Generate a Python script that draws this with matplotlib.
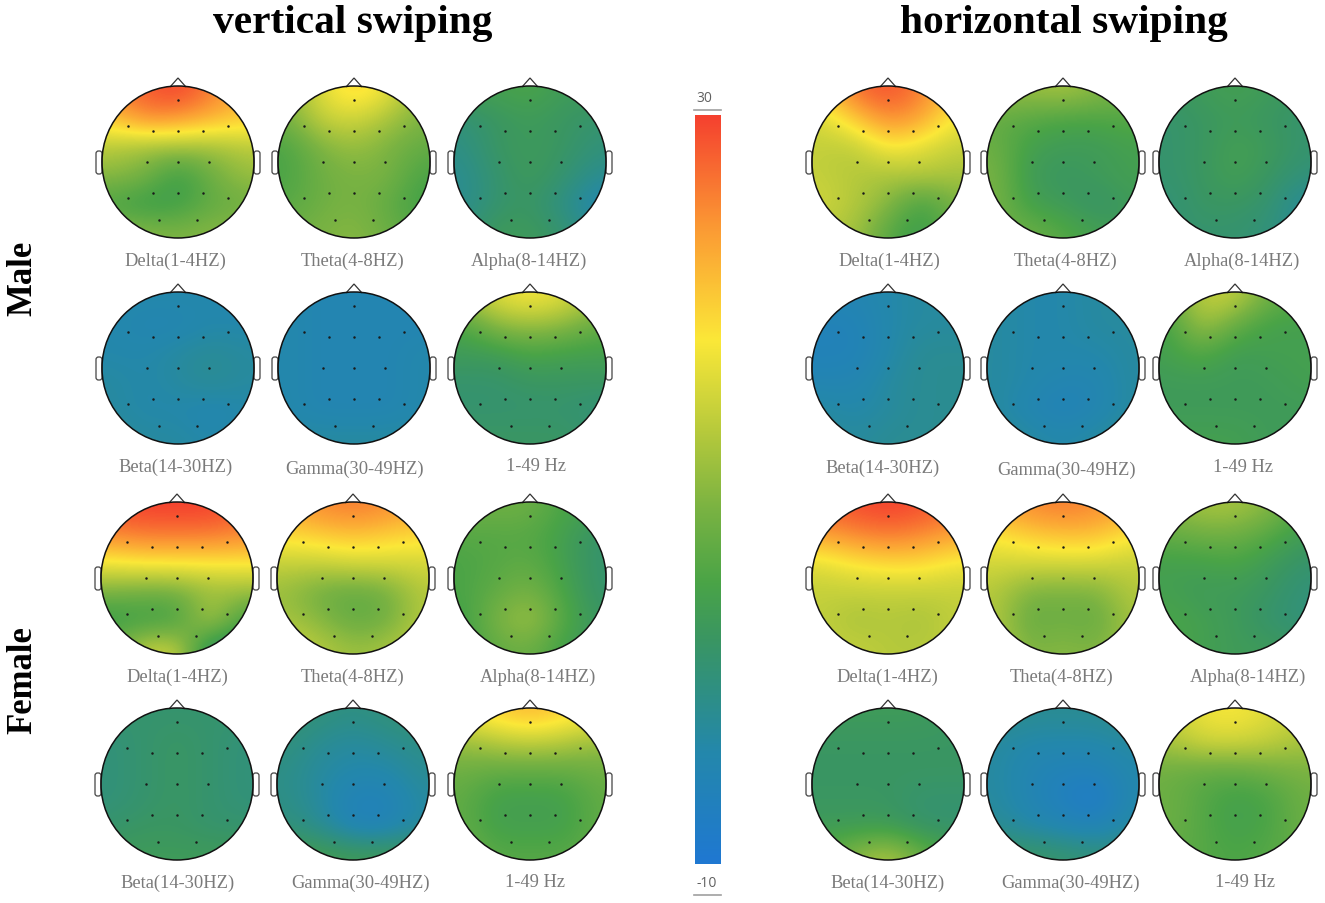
import numpy as np
import matplotlib
matplotlib.use("Agg")
import matplotlib.pyplot as plt
from matplotlib.colors import LinearSegmentedColormap
from matplotlib.patches import Circle, FancyBboxPatch, Polygon

# Values in the colour bar's units, rows top to bottom of the head
mv_delta = [[26, 28, 30, 26, 22], [20, 25, 24, 22, 20], [13, 11, 11, 11, 13], [10, 9, 3, 8, 11], [5, 3, 4, 7, 8], [10, 10, 9, 10, 10]]
mv_theta = [[10, 16, 20, 17, 10], [8, 14, 15, 12, 9], [5, 9, 11, 9, 7], [5, 8, 9, 9, 5], [6, 8, 9, 7, 4], [8, 9, 10, 8, 6]]
mv_alpha = [[4, 4, 5, 3, 3], [0, 2, 3, 2, 1], [-1, 2, 3, 2, 0], [-2, 1, 3, 1, -2], [-2, 1, 2, -1, -5], [0, 3, 3, 1, -2]]
mv_beta = [[-4, -4, -4, -4, -5], [-4, -5, -5, -4, -4], [-4, -4, -3, -2, -3], [-3, -4, -3, -2, -3], [-3, -4, -4, -5, -4], [-2, -3, -3, -4, -3]]
mv_gamma = [[-4, -5, -5, -5, -5], [-4, -5, -5, -5, -5], [-4, -5, -5, -5, -4], [-4, -5, -5, -5, -4], [-4, -5, -5, -5, -4], [-3, -3, -3, -3, -3]]
mv_all = [[12, 16, 18, 16, 12], [5, 10, 11, 10, 7], [3, 3, 5, 4, 4], [1, 1, 2, 2, 2], [1, 1, 1, 1, 0], [2, 2, 2, 2, 1]]

mh_delta = [[20, 27, 29, 26, 20], [15, 20, 25, 23, 17], [14, 13, 18, 16, 14], [14, 13, 12, 13, 12], [15, 13, 10, 4, 9], [13, 12, 6, 3, 8]]
mh_theta = [[11, 11, 12, 10, 8], [7, 6, 5, 5, 6], [8, 4, 3, 3, 4], [9, 3, 2, 3, 4], [9, 4, 3, 1, 3], [8, 8, 6, 4, 3]]
mh_alpha = [[2, 3, 4, 3, 2], [1, 2, 3, 2, 1], [1, 2, 4, 3, 1], [1, 2, 4, 2, 0], [0, 2, 2, 1, -3], [1, 1, 1, 0, -2]]
mh_beta = [[-5, -5, -4, -3, -3], [-6, -6, -4, -3, -3], [-6, -6, -4, -2, -2], [-5, -5, -3, -2, -2], [-3, -4, -3, -2, -2], [-2, -3, -2, -2, -2]]
mh_gamma = [[-3, -4, -4, -3, -3], [-3, -4, -4, -3, -3], [-3, -4, -4, -4, -3], [-3, -4, -5, -5, -3], [-3, -5, -6, -5, -3], [-2, -3, -4, -3, -2]]
mh_all = [[7, 14, 14, 8, 6], [4, 12, 7, 4, 4], [4, 6, 3, 4, 4], [3, 3, 3, 3, 4], [3, 3, 3, 3, 3], [4, 4, 4, 3, 3]]

fv_delta = [[29, 30, 30, 30, 28], [25, 26, 26, 26, 25], [17, 18, 18, 18, 18], [9, 8, 8, 11, 11], [3, 4, 4, 14, 4], [8, 14, 15, -1, 1]]
fv_theta = [[23, 25, 26, 25, 23], [19, 20, 21, 20, 19], [14, 14, 15, 15, 15], [11, 8, 7, 8, 13], [12, 10, 7, 8, 13], [15, 13, 11, 12, 14]]
fv_alpha = [[8, 8, 8, 5, 4], [6, 6, 6, 4, 1], [5, 6, 7, 4, 1], [5, 7, 9, 5, 1], [4, 9, 12, 6, 2], [4, 7, 8, 4, 2]]
fv_beta = [[1, 1, 1, 1, 1], [0, 1, 2, 1, 0], [0, 1, 2, 1, 0], [0, 1, 2, 1, 0], [1, 2, 2, 1, 1], [3, 3, 3, 3, 3]]
fv_gamma = [[1, 0, -1, 0, 1], [0, -2, -3, -2, -1], [-1, -3, -4, -4, -2], [-1, -3, -6, -6, -3], [0, -2, -6, -6, -3], [4, 4, 3, 3, 3]]
fv_all = [[18, 20, 22, 20, 18], [11, 13, 14, 13, 11], [8, 7, 7, 7, 8], [7, 4, 4, 4, 7], [7, 4, 4, 4, 7], [8, 6, 6, 6, 7]]

fh_delta = [[28, 29, 30, 29, 27], [23, 25, 26, 25, 23], [16, 18, 19, 19, 17], [14, 14, 14, 14, 14], [14, 12, 13, 12, 14], [14, 14, 13, 13, 14]]
fh_theta = [[23, 25, 26, 25, 23], [18, 20, 21, 21, 18], [15, 15, 15, 15, 14], [13, 9, 9, 9, 13], [13, 7, 8, 7, 12], [13, 9, 10, 9, 12]]
fh_alpha = [[10, 12, 12, 10, 6], [7, 8, 8, 6, 3], [4, 4, 5, 3, 1], [4, 3, 3, 2, 0], [5, 4, 3, 1, 0], [5, 4, 3, 3, 2]]
fh_beta = [[3, 3, 3, 3, 2], [2, 2, 2, 2, 2], [2, 2, 2, 2, 2], [2, 2, 2, 1, 1], [3, 3, 3, 1, 1], [6, 10, 13, 8, 4]]
fh_gamma = [[-1, -2, -2, -2, -1], [-3, -4, -4, -4, -3], [-3, -5, -6, -6, -4], [-3, -5, -7, -9, -4], [-2, -4, -5, -6, -3], [2, 2, 1, 0, 0]]
fh_all = [[14, 17, 18, 16, 14], [12, 15, 15, 14, 12], [8, 7, 7, 8, 9], [8, 6, 4, 5, 8], [8, 6, 4, 5, 8], [7, 6, 5, 6, 7]]

band_names = ["Delta(1-4HZ)", "Theta(4-8HZ)", "Alpha(8-14HZ)",
              "Beta(14-30HZ)", "Gamma(30-49HZ)", "1-49 Hz"]
electrodes_x = [0, -.66, -.33, 0, .33, .66, -.41, 0, .41, -.66, -.33, 0, .33, .66, -.25, .25]
electrodes_y = [.81, .48, .41, .41, .41, .48, 0, 0, 0, -.47, -.41, -.41, -.41, -.47, -.76, -.76]

vmin, vmax = -10, 30
color_stops = [(-10, "#1f78d2"), (-4, "#2488ab"), (-1, "#2e8f85"), (2, "#3a9662"),
               (5, "#4aa447"), (9, "#7ab342"), (13, "#b5c93c"), (18, "#fbe838"),
               (24, "#fb9a34"), (30, "#f5412f")]
cmap = LinearSegmentedColormap.from_list(
    "eeg", [((v - vmin) / (vmax - vmin), c) for v, c in color_stops])

R = 76
label_color = "#7a7a7a"


def draw_head(ax, cx, cy, values, label, lx, ly):
    pad = 1.1 * R
    im = ax.imshow(values, cmap=cmap, vmin=vmin, vmax=vmax, interpolation="bicubic",
                   extent=(cx - pad, cx + pad, cy + pad, cy - pad), aspect="auto", zorder=1)
    circle = Circle((cx, cy), R, fc="none", ec="#111111", lw=1.1, zorder=3)
    ax.add_patch(circle)
    im.set_clip_path(circle)

    ax.add_patch(Polygon([(cx - 8, cy - R + 1), (cx, cy - R - 8), (cx + 8, cy - R + 1)],
                         closed=False, fc="none", ec="#333333", lw=0.9, zorder=2))
    for side in (-1, 1):
        x0 = cx + side * (R + 3) - 3
        ax.add_patch(FancyBboxPatch((x0, cy - 11), 6, 23, boxstyle="round,pad=0,rounding_size=2.5",
                                    fc="none", ec="#444444", lw=0.9, zorder=2))

    ax.scatter(cx + np.array(electrodes_x) * R, cy - np.array(electrodes_y) * R,
               s=3.2, c="#1a1a1a", linewidths=0, zorder=4)
    ax.text(lx, ly, label, ha="center", va="center", color=label_color,
            fontsize=13.3, family="Liberation Serif")


fig = plt.figure(figsize=(13.25, 9.04), dpi=100)
ax = fig.add_axes([0, 0, 1, 1])
ax.axis("off")

panels = [
    # row values, head centres, label positions
    ([mv_delta, mv_theta, mv_alpha], [(178, 163), (354, 163), (530, 163)], [(175, 261), (353, 261), (529, 261)]),
    ([mv_beta, mv_gamma, mv_all], [(178, 369), (354, 369), (530, 369)], [(176, 467), (355, 469), (536, 467)]),
    ([fv_delta, fv_theta, fv_alpha], [(177, 579), (353, 579), (530, 579)], [(177, 677), (353, 677), (538, 677)]),
    ([fv_beta, fv_gamma, fv_all], [(177, 785), (353, 785), (530, 785)], [(178, 883), (361, 883), (535, 883)]),
    ([mh_delta, mh_theta, mh_alpha], [(888, 163), (1063, 163), (1235, 163)], [(889, 261), (1066, 261), (1242, 261)]),
    ([mh_beta, mh_gamma, mh_all], [(888, 369), (1063, 369), (1235, 369)], [(883, 468), (1067, 470), (1243, 468)]),
    ([fh_delta, fh_theta, fh_alpha], [(888, 579), (1063, 579), (1235, 579)], [(887, 677), (1062, 677), (1248, 677)]),
    ([fh_beta, fh_gamma, fh_all], [(888, 785), (1063, 785), (1235, 785)], [(888, 883), (1071, 883), (1245, 883)]),
]
for row, (vals, centres, label_pos) in enumerate(panels):
    names = band_names[:3] if row % 2 == 0 else band_names[3:]
    for v, (cx, cy), name, (lx, ly) in zip(vals, centres, names, label_pos):
        draw_head(ax, cx, cy, v, name, lx, ly)

# colour bar
gradient = np.linspace(vmax, vmin, 256).reshape(-1, 1)
ax.imshow(gradient, cmap=cmap, vmin=vmin, vmax=vmax, extent=(695, 721, 865, 116), aspect="auto", zorder=1)
ax.plot([694, 721], [111, 111], color="#a0a0a0", lw=1.2)
ax.plot([694, 721], [896, 896], color="#a0a0a0", lw=1.2)
ax.text(704, 99, "30", ha="center", va="center", fontsize=10, color="#606060", family="Open Sans")
ax.text(707, 884, "-10", ha="center", va="center", fontsize=10, color="#606060", family="Open Sans")

# titles
ax.text(353, 33, "vertical swiping", ha="center", va="baseline", fontsize=29.8,
        fontweight="bold", family="Liberation Serif", color="black")
ax.text(1064, 33, "horizontal swiping", ha="center", va="baseline", fontsize=29.8,
        fontweight="bold", family="Liberation Serif", color="black")
ax.text(31, 278, "Male", rotation=90, ha="center", va="baseline", rotation_mode="anchor",
        fontsize=25, fontweight="bold", family="Liberation Serif", color="black")
ax.text(31, 680, "Female", rotation=90, ha="center", va="baseline", rotation_mode="anchor",
        fontsize=25, fontweight="bold", family="Liberation Serif", color="black")

ax.set_xlim(0, 1325)
ax.set_ylim(904, 0)
fig.savefig("out.png", dpi=100)
